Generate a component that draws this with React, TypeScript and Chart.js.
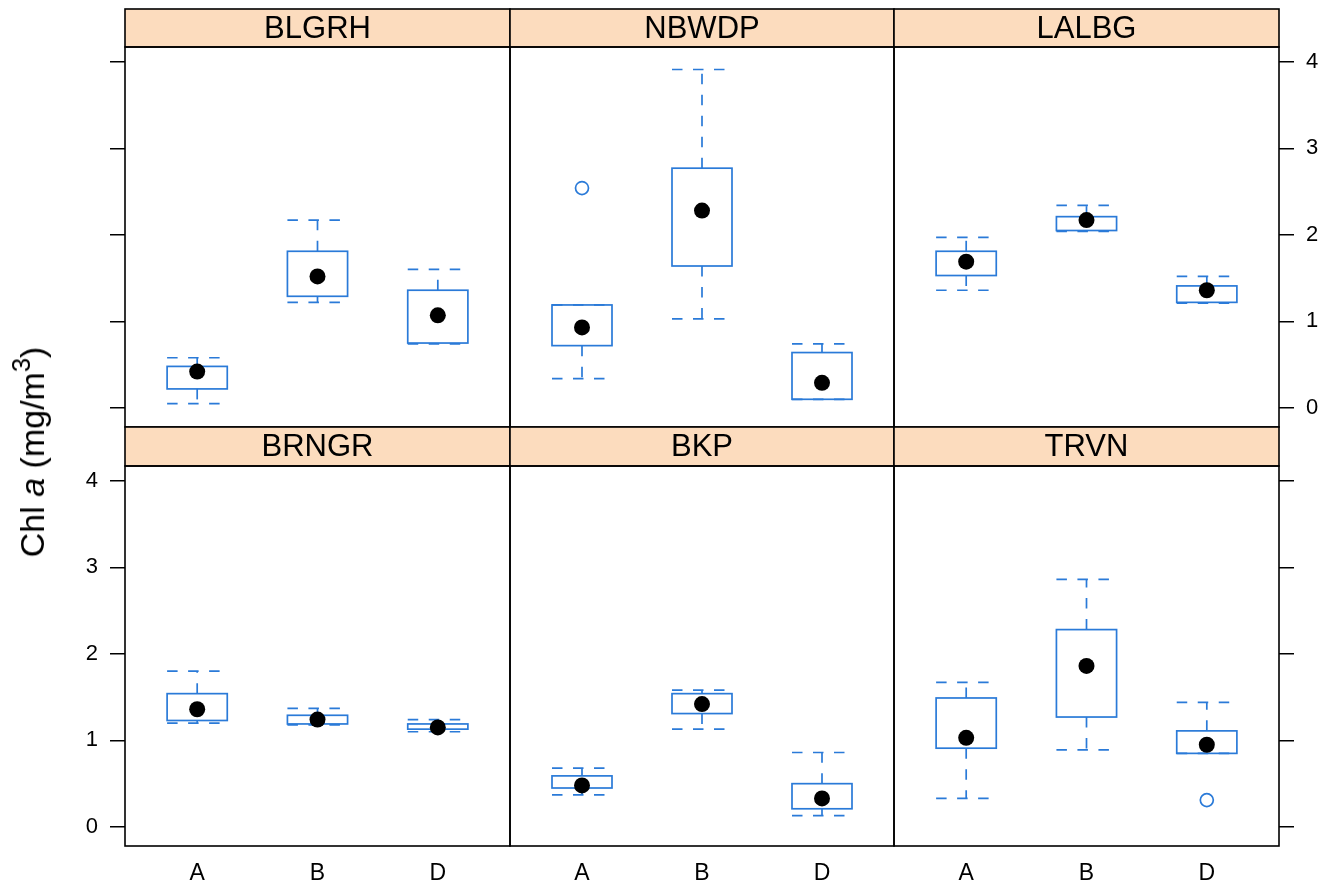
import React, { useEffect, useRef } from "react";
import { Chart, registerables } from "chart.js";

Chart.register(...registerables);

// ---------- data ----------
const groups = ["A", "B", "D"];
const sites = ["BLGRH", "NBWDP", "LALBG", "BRNGR", "BKP", "TRVN"];
const yTicks = [0, 1, 2, 3, 4];

// five-number summaries per group: [lower whisker, Q1, median, Q3, upper whisker]
const BLGRH = [
  [0.05, 0.22, 0.42, 0.48, 0.58],
  [1.22, 1.29, 1.52, 1.81, 2.17],
  [0.74, 0.75, 1.07, 1.36, 1.6],
];
const NBWDP = [
  [0.34, 0.72, 0.93, 1.19, 1.19],
  [1.03, 1.64, 2.28, 2.77, 3.91],
  [0.1, 0.1, 0.29, 0.64, 0.74],
];
const LALBG = [
  [1.36, 1.53, 1.69, 1.81, 1.97],
  [2.04, 2.05, 2.17, 2.21, 2.34],
  [1.21, 1.22, 1.36, 1.41, 1.52],
];
const BRNGR = [
  [1.2, 1.23, 1.36, 1.54, 1.8],
  [1.18, 1.19, 1.24, 1.29, 1.37],
  [1.1, 1.13, 1.15, 1.19, 1.24],
];
const BKP = [
  [0.37, 0.45, 0.48, 0.59, 0.68],
  [1.13, 1.31, 1.42, 1.54, 1.58],
  [0.13, 0.21, 0.33, 0.5, 0.86],
];
const TRVN = [
  [0.33, 0.91, 1.03, 1.49, 1.67],
  [0.89, 1.27, 1.86, 2.28, 2.86],
  [0.85, 0.85, 0.95, 1.11, 1.44],
];
// outliers: [group index, value]
const NBWDP_out = [[0, 2.54]];
const TRVN_out = [[2, 0.31]];

const panelStats = [BLGRH, NBWDP, LALBG, BRNGR, BKP, TRVN];
const panelOutliers = [[], NBWDP_out, [], [], [], TRVN_out];

// ---------- layout / style ----------
const W = 1341;
const H = 884;
const COLS = [
  [125, 510],
  [510, 894],
  [894, 1279],
];
const ROWS = [
  { stripTop: 9, top: 47, bottom: 427 },
  { stripTop: 427, top: 466, bottom: 846 },
];
const YMIN = -0.22;
const YMAX = 4.17;
const XMIN = 0.4;
const XMAX = 3.6;
const BOX_W = 0.5;
const BLUE = "#2a7ad8";
const STRIP_BG = "#fcdcbe";
const FONT = "'Liberation Sans', Arial, Helvetica, sans-serif";
const AXIS_W = 60;
const XAXIS_H = 38;

function makeConfig(idx: number) {
  const row = Math.floor(idx / 3);
  const col = idx % 3;
  const [px0, px1] = COLS[col];
  const R = ROWS[row];
  const stats = panelStats[idx];
  const outs = panelOutliers[idx];

  let yPos: "left" | "right" | null = null;
  let yLabels = false;
  if (row === 0 && col === 0) { yPos = "left"; yLabels = false; }
  if (row === 0 && col === 2) { yPos = "right"; yLabels = true; }
  if (row === 1 && col === 0) { yPos = "left"; yLabels = true; }
  if (row === 1 && col === 2) { yPos = "right"; yLabels = false; }
  const showX = row === 1;
  const showY = yPos !== null;

  const padding = {
    left: yPos === "left" ? px0 - AXIS_W : px0,
    right: yPos === "right" ? W - px1 - AXIS_W : W - px1,
    top: R.top,
    bottom: showX ? H - R.bottom - XAXIS_H : H - R.bottom,
  };

  const boxPlugin = {
    id: "boxes" + idx,
    beforeDatasetsDraw(chart: any) {
      const { ctx } = chart;
      const x = chart.scales.x;
      const y = chart.scales.y;
      stats.forEach((s: number[], i: number) => {
        const cx = x.getPixelForValue(i + 1);
        const half = x.getPixelForValue(i + 1 + BOX_W / 2) - cx;
        const [lo, q1, , q3, hi] = s.map((v) => y.getPixelForValue(v));
        ctx.save();
        ctx.strokeStyle = BLUE;
        ctx.lineWidth = 1.7;
        ctx.strokeRect(cx - half, q3, 2 * half, q1 - q3);
        ctx.setLineDash([10.5, 10.5]);
        const seg = (x0: number, y0: number, x1: number, y1: number) => {
          ctx.beginPath();
          ctx.moveTo(x0, y0);
          ctx.lineTo(x1, y1);
          ctx.stroke();
        };
        seg(cx, q3, cx, hi);
        seg(cx, q1, cx, lo);
        seg(cx - half, hi, cx + half, hi);
        seg(cx - half, lo, cx + half, lo);
        ctx.restore();
      });
    },
    afterDraw(chart: any) {
      const { ctx } = chart;
      ctx.save();
      // strip
      ctx.fillStyle = STRIP_BG;
      ctx.fillRect(px0, R.stripTop, px1 - px0, R.top - R.stripTop);
      ctx.strokeStyle = "#000";
      ctx.lineWidth = 1.6;
      ctx.strokeRect(px0, R.stripTop, px1 - px0, R.top - R.stripTop);
      ctx.fillStyle = "#000";
      ctx.font = `31px ${FONT}`;
      ctx.textAlign = "center";
      ctx.textBaseline = "middle";
      ctx.fillText(sites[idx], (px0 + px1) / 2, (R.stripTop + R.top) / 2 + 1);
      // panel frame
      ctx.strokeRect(px0, R.top, px1 - px0, R.bottom - R.top);
      ctx.restore();
    },
  };

  const yAxis: any = {
    type: "linear",
    min: YMIN,
    max: YMAX,
    display: showY,
    position: yPos || "left",
    afterBuildTicks: (s: any) => {
      s.ticks = yTicks.map((v) => ({ value: v }));
    },
    afterFit: (s: any) => {
      s.width = showY ? AXIS_W : 0;
    },
    ticks: {
      display: yLabels,
      color: "#000",
      padding: 12,
      font: { size: 22, family: FONT },
    },
    grid: {
      display: true,
      drawOnChartArea: false,
      drawTicks: true,
      tickLength: 15,
      color: "#000",
      lineWidth: 1.5,
    },
    border: { display: false },
  };

  const xAxis: any = {
    type: "linear",
    min: XMIN,
    max: XMAX,
    display: showX,
    position: "bottom",
    afterBuildTicks: (s: any) => {
      s.ticks = groups.map((_, i) => ({ value: i + 1 }));
    },
    afterFit: (s: any) => {
      s.height = showX ? XAXIS_H : 0;
    },
    ticks: {
      color: "#000",
      padding: 14,
      maxRotation: 0,
      autoSkip: false,
      font: { size: 23, family: FONT },
      callback: (v: number) => groups[Math.round(v) - 1] ?? "",
    },
    grid: { display: false, drawTicks: false },
    border: { display: false },
  };

  return {
    type: "scatter" as const,
    data: {
      datasets: [
        {
          label: "median",
          data: stats.map((s: number[], i: number) => ({ x: i + 1, y: s[2] })),
          pointRadius: 8,
          pointBackgroundColor: "#000",
          pointBorderColor: "#000",
          pointBorderWidth: 0,
          showLine: false,
        },
        {
          label: "outliers",
          data: outs.map((o: number[]) => ({ x: o[0] + 1, y: o[1] })),
          pointRadius: 6.5,
          pointBackgroundColor: "rgba(0,0,0,0)",
          pointBorderColor: BLUE,
          pointBorderWidth: 1.7,
          showLine: false,
        },
      ],
    },
    options: {
      responsive: false,
      animation: false as const,
      devicePixelRatio: 1,
      clip: false as const,
      layout: { padding },
      plugins: {
        legend: { display: false },
        tooltip: { enabled: false },
        title: { display: false },
      },
      scales: { x: xAxis, y: yAxis },
    },
    plugins: [boxPlugin],
  };
}

function Panel({ idx }: { idx: number }) {
  const ref = useRef<HTMLCanvasElement | null>(null);
  useEffect(() => {
    if (!ref.current) return;
    const chart = new Chart(ref.current, makeConfig(idx) as any);
    return () => chart.destroy();
  }, [idx]);
  return (
    <canvas
      ref={ref}
      width={W}
      height={H}
      style={{ position: "absolute", left: 0, top: 0, width: W, height: H }}
    />
  );
}

export default function App() {
  return (
    <div
      style={{
        position: "absolute",
        left: 0,
        top: 0,
        width: W,
        height: H,
        background: "#fff",
        overflow: "hidden",
      }}
    >
      {sites.map((_, i) => (
        <Panel key={i} idx={i} />
      ))}
      <div
        style={{
          position: "absolute",
          left: 32,
          top: 452,
          transform: "translate(-50%, -50%) rotate(-90deg)",
          whiteSpace: "nowrap",
          fontFamily: FONT,
          fontSize: 34,
          lineHeight: 1,
          color: "#000",
        }}
      >
        Chl <i>a</i> (mg/m<sup style={{ fontSize: "0.75em", verticalAlign: "0.55em", lineHeight: 0 }}>3</sup>)
      </div>
    </div>
  );
}
